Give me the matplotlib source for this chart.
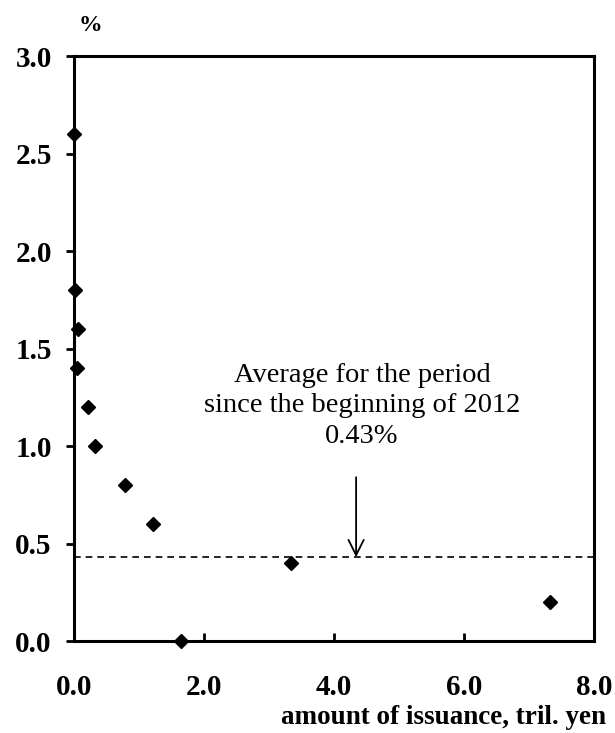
import matplotlib.pyplot as plt

# issuance amount (tril. yen) vs rate (%)
issuance = [0.0, 0.02, 0.06, 0.04, 0.22, 0.32, 0.78, 1.22, 1.64, 3.34, 7.32]
rate = [2.6, 1.8, 1.6, 1.4, 1.2, 1.0, 0.8, 0.6, 0.0, 0.4, 0.2]
avg_rate = 0.43
x_ticks = [0.0, 2.0, 4.0, 6.0, 8.0]
y_ticks = [0.0, 0.5, 1.0, 1.5, 2.0, 2.5, 3.0]

plt.rcParams["font.family"] = ["Liberation Serif", "DejaVu Serif"]

fig = plt.figure(figsize=(6.15, 7.33), dpi=100)
ax = fig.add_axes([0.1203, 0.1255, 0.8456, 0.7981])

ax.plot(issuance, rate, linestyle="none", marker="D", markersize=7,
        color="black", clip_on=False, zorder=5)
ax.axhline(avg_rate, color="black", linestyle=(0, (4, 3)), linewidth=1.2)

ax.annotate("", xy=(4.34, avg_rate), xytext=(4.34, 0.84),
            arrowprops=dict(arrowstyle="->,head_length=1.1,head_width=0.55",
                            color="black", lw=1.3, shrinkA=0, shrinkB=0))
ax.text(4.43, 0.985, "Average for the period\nsince the beginning of 2012\n0.43%",
        ha="center", va="bottom", fontsize=20.5, linespacing=1.3)

ax.set_xlim(0, 8)
ax.set_ylim(0, 3)
ax.set_xticks(x_ticks)
ax.set_yticks(y_ticks)
ax.set_xticklabels([f"{v:.1f}" for v in x_ticks], fontsize=21, fontweight="bold")
ax.set_yticklabels([f"{v:.1f}" for v in y_ticks], fontsize=21, fontweight="bold")
ax.tick_params(axis="x", direction="in", length=6, width=2, pad=24)
ax.tick_params(axis="y", direction="out", length=6, width=2, pad=10)

for s in ax.spines.values():
    s.set_linewidth(2.2)

ax.text(0.032, 1.035, "%", transform=ax.transAxes, fontsize=17,
         fontweight="bold", ha="center", va="bottom")
fig.text(0.985, 0.004, "amount of issuance, tril. yen", fontsize=19.5,
         fontweight="bold", ha="right", va="bottom")

fig.savefig("out.png", dpi=100)
